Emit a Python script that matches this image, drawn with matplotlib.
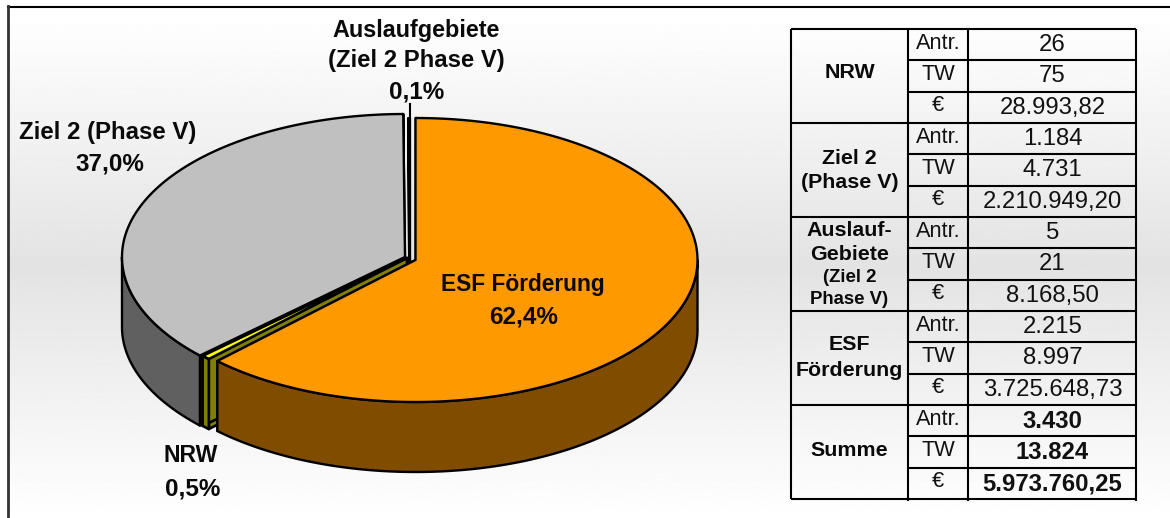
#!/bin/python

import numpy as np
from matplotlib import pyplot as plt
from matplotlib.patches import Polygon

plt.rcParams['font.family'] = ['Liberation Sans', 'DejaVu Sans']

# pie data, clockwise from 12 o'clock
slice_names = ['ESF', 'NRW', 'Ziel2', 'Auslauf']
shares = [62.4, 0.5, 37.0, 0.1]

# table data
groups = [['NRW'], ['Ziel 2', '(Phase V)'], ['Auslauf-', 'Gebiete', '(Ziel 2', 'Phase V)'],
          ['ESF', 'Förderung'], ['Summe']]
row_labels = ['Antr.', 'TW', '€']
table_values = ['26', '75', '28.993,82',
                '1.184', '4.731', '2.210.949,20',
                '5', '21', '8.168,50',
                '2.215', '8.997', '3.725.648,73',
                '3.430', '13.824', '5.973.760,25']

# look of each slice: centre x, centre y, a, b, top colour, side colour, line width
style = {
    'ESF': (415.5, 260, 282, 142, '#ff9900', '#7f4c00', 1.7),
    'NRW': (407, 258, 282, 142, '#ffff00', '#808000', 1.9),
    'Ziel2': (405, 257, 283, 143, '#c0c0c0', '#606060', 1.7),
    'Auslauf': (410, 262, 282, 144, '#ffffff', '#808080', 1.5),
}
depth = 70
draw_order = ['Auslauf', 'Ziel2', 'NRW', 'ESF']


def rim(cx, cy, a, b, t):
    return np.column_stack([cx + a*np.sin(t), cy - b*np.cos(t)])


def draw_slice(ax, name, t0, t1):
    cx, cy, a, b, top, side, lw = style[name]
    edge = dict(edgecolor='black', linewidth=lw, joinstyle='round')
    # cut faces
    for t in (t0, t1):
        p = rim(cx, cy, a, b, np.array([t]))[0]
        face = [(cx, cy), p, p + (0, depth), (cx, cy + depth)]
        ax.add_patch(Polygon(face, facecolor=side, **edge))
    # outer wall, only the part in front
    w0, w1 = max(t0, np.pi/2), min(t1, 3*np.pi/2)
    if w1 > w0:
        arc = rim(cx, cy, a, b, np.linspace(w0, w1, 120))
        wall = np.vstack([arc, arc[::-1] + (0, depth)])
        ax.add_patch(Polygon(wall, facecolor=side, **edge))
    # top
    arc = rim(cx, cy, a, b, np.linspace(t0, t1, 240))
    ax.add_patch(Polygon(np.vstack([[(cx, cy)], arc]), facecolor=top, **edge))


def bold(ax, x, y, s, size=16.8):
    ax.text(x, y, s, ha='center', va='center', fontsize=size, fontweight='bold', color='#0a0a0a')


fig = plt.figure(figsize=(11.7, 5.18), dpi=100)
ax = fig.add_axes([0, 0, 1, 1])
ax.set_xlim(0, 1170)
ax.set_ylim(518, 0)
ax.axis('off')

# background fade
ys = np.arange(518)
grey = np.interp(ys, [0, 8, 262, 518], [1, 1, 0.89, 1.0])
ax.imshow(grey[:, None], extent=(8, 1170, 518, 6), cmap='gray', vmin=0, vmax=1, aspect='auto', zorder=0)
ax.set_xlim(0, 1170)
ax.set_ylim(518, 0)
ax.plot([8, 1170], [6.5, 6.5], color='black', lw=1.5)
ax.plot([8, 8], [6, 518], color='#333333', lw=2)

# pie
edges = np.radians(np.cumsum([0] + shares) * 3.6)
for name in draw_order:
    i = slice_names.index(name)
    draw_slice(ax, name, edges[i], edges[i+1])
ax.plot([410, 410], [104, 262], color='black', lw=1.5)

bold(ax, 416, 30, 'Auslaufgebiete')
bold(ax, 416, 61, '(Ziel 2 Phase V)', 17.2)
bold(ax, 417, 92, '0,1%', 17.5)
bold(ax, 108, 132, 'Ziel 2 (Phase V)', 17.3)
bold(ax, 110, 164, '37,0%', 17.5)
bold(ax, 523, 285, 'ESF Förderung', 16.4)
bold(ax, 524, 317, '62,4%', 17.5)
bold(ax, 191, 456, 'NRW', 16.6)
bold(ax, 193, 489, '0,5%', 17.5)

# table
x0, x1, x2, x3 = 791, 908, 968, 1136
y_top, y_bot = 29, 499
row_h = (y_bot - y_top) / len(table_values)
lines = dict(color='black', lw=1.5, solid_capstyle='butt')
for i, val in enumerate(table_values):
    yc = y_top + (i + 0.5)*row_h
    ax.text((x1 + x2)/2, yc - 1.5, row_labels[i % 3], ha='center', va='center', fontsize=15.7, color='#111111')
    is_sum = i >= 12
    ax.text((x2 + x3)/2 + 0.5, yc + 0.5, val, ha='center', va='center', fontsize=17.2,
            fontweight='bold' if is_sum else 'normal', color='#111111')
    if i % 3 == 0:
        ax.plot([x0, x3], [yc - row_h/2]*2, **lines)
    else:
        ax.plot([x1, x3], [yc - row_h/2]*2, **lines)
ax.plot([x0, x3], [y_bot, y_bot], **lines)
ax.plot([x0, x0], [y_top, y_bot], **lines)
for x in (x1, x2, x3):
    ax.plot([x, x], [y_top, y_bot + 2], **lines)

# y of each line of the group names, by group
group_ys = [[73], [159, 182], [230, 255, 277, 300], [345, 370], [450]]
for g, ylist in zip(groups, group_ys):
    for s, y in zip(g, ylist):
        small = s in ('(Ziel 2', 'Phase V)')
        bold(ax, 849.5, y, s, size=13.4 if small else 15.4)

fig.savefig('out.png', dpi=100)
